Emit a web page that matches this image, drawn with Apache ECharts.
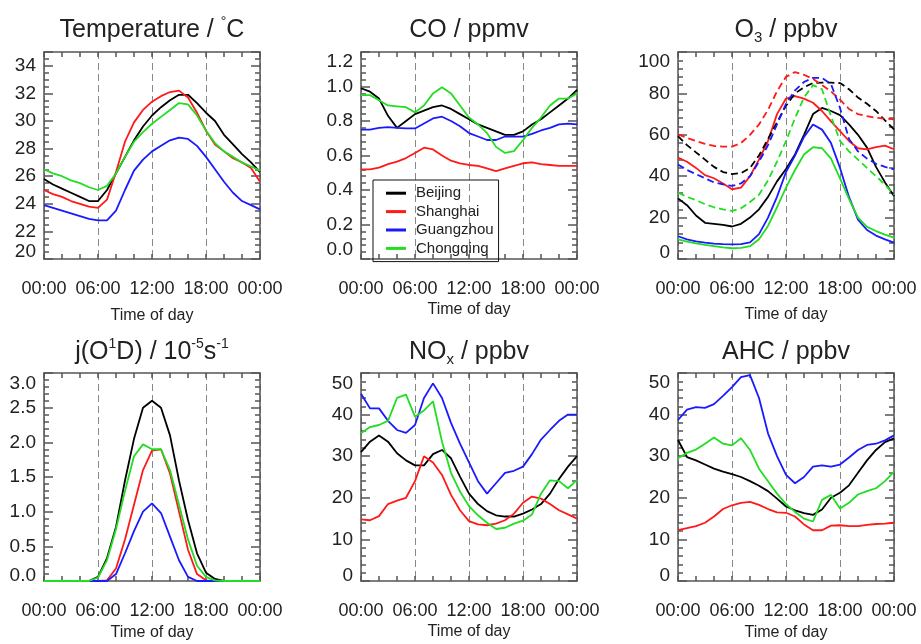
<!DOCTYPE html>
<html><head><meta charset="utf-8">
<script src="https://cdn.jsdelivr.net/npm/echarts@6/dist/echarts.min.js"></script>
<style>html,body{margin:0;padding:0;background:#fff}#c{width:921px;height:644px}</style>
</head><body><div id="c"></div>
<script>
// ---------------- data ----------------
const hours = [0,1,2,3,4,5,6,7,8,9,10,11,12,13,14,15,16,17,18,19,20,21,22,23,24];
const xTickLabels = ['00:00','06:00','12:00','18:00','00:00'];
const cities = ['Beijing','Shanghai','Guangzhou','Chongqing'];

const tempTicks = ['20','22','24','26','28','30','32','34'];
const coTicks = ['0.0','0.2','0.4','0.6','0.8','1.0','1.2'];
const o3Ticks = ['0','20','40','60','80','100'];
const jTicks = ['0.0','0.5','1.0','1.5','2.0','2.5','3.0'];
const noxTicks = ['0','10','20','30','40','50'];
const ahcTicks = ['0','10','20','30','40','50'];

const tempBeijing   = [25.8,25.4,25.1,24.8,24.5,24.2,24.2,25.0,26.2,27.4,28.6,29.6,30.4,31.0,31.5,31.9,31.9,31.3,30.6,30.0,29.0,28.3,27.6,27.0,26.3];
const tempShanghai  = [25.0,24.7,24.5,24.2,24.0,23.8,23.7,24.3,26.3,28.5,29.9,30.8,31.4,31.8,32.1,32.2,31.7,30.6,29.3,28.3,27.8,27.3,27.0,26.6,25.6];
const tempGuangzhou = [23.9,23.7,23.5,23.3,23.1,22.9,22.8,22.8,23.5,25.0,26.4,27.2,27.8,28.2,28.6,28.8,28.7,28.2,27.4,26.5,25.6,24.8,24.2,23.9,23.6];
const tempChongqing = [26.5,26.2,26.0,25.7,25.5,25.2,25.0,25.3,26.2,27.4,28.5,29.2,29.8,30.3,30.8,31.3,31.2,30.4,29.3,28.4,27.8,27.4,27.0,26.7,26.4];

const coBeijing   = [0.99,0.97,0.93,0.83,0.76,0.80,0.84,0.86,0.88,0.89,0.87,0.84,0.81,0.78,0.76,0.74,0.72,0.72,0.74,0.78,0.81,0.85,0.89,0.93,0.98];
const coShanghai  = [0.52,0.52,0.53,0.55,0.565,0.585,0.615,0.645,0.635,0.60,0.57,0.555,0.545,0.54,0.525,0.51,0.525,0.54,0.555,0.56,0.55,0.545,0.54,0.54,0.54];
const coGuangzhou = [0.75,0.75,0.76,0.765,0.76,0.757,0.757,0.786,0.815,0.825,0.80,0.77,0.73,0.71,0.69,0.69,0.71,0.71,0.71,0.725,0.745,0.76,0.78,0.785,0.78];
const coChongqing = [0.95,0.95,0.92,0.89,0.885,0.88,0.85,0.89,0.96,0.995,0.96,0.89,0.82,0.78,0.73,0.65,0.615,0.625,0.69,0.76,0.82,0.89,0.93,0.93,0.96];

const o3Beijing   = [29.3,26,21,17.5,17,16.5,15.7,17,20,24,30,37.5,43.5,50.5,60,70,73,71.5,69.5,65,60,53.8,44.5,37,30.4];
const o3Shanghai  = [49,47,44,40.5,39,36.5,33.7,34.5,40,48,57,70,77.5,78.7,77.5,75.5,71.5,66.5,61.8,57,53.5,53,54,54.8,53];
const o3Guangzhou = [11,9.5,8.5,7.9,7.4,7.2,7.1,7.2,8,12,20,30,42,50,59,65,62.5,56,44,30,19,14,11.3,9.5,7.9];
const o3Chongqing = [9.5,8.4,7.6,6.8,6.2,5.6,5.2,5.4,6.2,9.5,16,25,34.5,43,50.5,54,53.5,48.5,39,29,20,15.5,13.5,11.8,10.3];
const o3BeijingB   = [59.4,55,51.5,48,44.5,42,41,41.5,44,50,58,66,74,80,83,85,85.2,85.2,85,82,78,75,71.5,67,62.6];
const o3ShanghaiB  = [60.2,58.5,57,55.6,54.6,54.3,54.3,56,60,65,72,81,88,90.3,89,87,84,81,77,72.5,70,69,68.2,67.8,67.5];
const o3GuangzhouB = [45.7,43,41,39,37,36,35.3,36.5,40,47,55,65,75,81.5,85.5,87.5,87.5,84.5,73,58,52,48.5,46,44.5,43.3];
const o3ChongqingB = [32,30,28.4,26.5,25,24,23.2,24.5,27.5,31,38,47,57,68,78,84,82,69,57,52,48,44,40,36,31];

const jBeijing   = [0,0,0,0,0,0,0.06,0.33,0.78,1.45,2.05,2.5,2.6,2.5,2.1,1.45,0.88,0.4,0.12,0.03,0,0,0,0,0];
const jShanghai  = [0,0,0,0,0,0,0,0.01,0.18,0.6,1.1,1.6,1.88,1.9,1.55,1.0,0.45,0.1,0.01,0,0,0,0,0,0];
const jGuangzhou = [0,0,0,0,0,0,0,0,0.1,0.4,0.72,1.0,1.12,0.98,0.64,0.3,0.06,0,0,0,0,0,0,0,0];
const jChongqing = [0,0,0,0,0,0,0.05,0.3,0.75,1.3,1.8,1.97,1.9,1.9,1.6,1.1,0.6,0.22,0.06,0.01,0,0,0,0,0];

const noxBeijing   = [31,33.5,35,33.5,30.7,29,27.8,27.8,30.5,31.5,29.5,25.1,21,18.5,16.8,15.8,15.5,15.5,16.2,17.2,18.5,21,24.5,27.5,30];
const noxShanghai  = [14.8,14.6,15.6,18.5,19.3,20,24,30,28.5,25.5,20.7,17,14.4,13.6,13.4,13.8,14.6,16.2,18.8,20.3,19.8,18.5,17,16,15];
const noxGuangzhou = [45,41.5,41.5,38.5,36.3,35.6,37.5,44,47.5,44,38,33,28.5,24,21,23.5,26,26.5,27.5,30.5,34,36.3,38.5,40,40];
const noxChongqing = [35.5,37,37.5,38.5,44,44.8,39.5,41,43.2,33.5,26,21.5,18,15.8,14,12.5,12.8,13.8,14.5,16,21,24.2,24,22.3,24.3];

const ahcBeijing   = [33.9,29.8,29,28,27,26.3,25.7,25,24,22.9,21.6,19.8,17.9,17,16.3,15.9,17.2,20,21.2,23,26,29,31.5,33.4,34.3];
const ahcShanghai  = [12.2,12.7,13.2,14,15.5,17.3,18.2,18.8,19,18.3,17.3,16.5,16.4,15.5,13.6,12.2,12.2,13.3,13.4,13.2,13.2,13.5,13.7,13.8,14];
const ahcGuangzhou = [38.7,41.2,41.8,41.6,42.5,44.5,46.6,49,49.5,44,35.5,30,25.5,23.5,25,27.5,27.8,27.5,28,29.7,31.5,32.7,33,33.8,35];
const ahcChongqing = [29.5,30.8,31.6,33,34.5,33,32.6,34.3,31.5,27,24,21,18.5,16.6,15,14.3,19.5,20.7,17.4,18.8,20.8,21.6,22.3,24,26.3];

// ---------------- style ----------------
const FONT = "'Liberation Sans', Arial, Helvetica, sans-serif";
const TXT = '#222';
const AX = '#555';
const COL = {Beijing:'#000000', Shanghai:'#ff1a1a', Guangzhou:'#1a1aff', Chongqing:'#22dd22'};

const panels = [
  {title:'Temperature / {sup|°}C', min:20, max:35, interval:2, minor:4, ticks:tempTicks, tShift:0, bShift:7, nameGap:49,
   lines:[[cities[0],tempBeijing],[cities[1],tempShanghai],[cities[2],tempGuangzhou],[cities[3],tempChongqing]]},
  {title:'CO / ppmv', min:0, max:1.2, interval:0.2, minor:5, ticks:coTicks, tShift:10, bShift:9, nameGap:43,
   lines:[[cities[0],coBeijing],[cities[1],coShanghai],[cities[2],coGuangzhou],[cities[3],coChongqing]]},
  {title:'O{sub|3} / ppbv', min:0, max:100, interval:20, minor:5, ticks:o3Ticks, tShift:10, bShift:6, nameGap:48,
   lines:[[cities[0],o3Beijing],[cities[1],o3Shanghai],[cities[2],o3Guangzhou],[cities[3],o3Chongqing],
          [cities[0],o3BeijingB,1],[cities[1],o3ShanghaiB,1],[cities[2],o3GuangzhouB,1],[cities[3],o3ChongqingB,1]]},
  {title:'j(O{sup|1}D) / 10{sup|-5}s{sup|-1}', min:0, max:3, interval:0.5, minor:5, ticks:jTicks, tShift:11, bShift:5, nameGap:44,
   lines:[[cities[0],jBeijing],[cities[1],jShanghai],[cities[2],jGuangzhou],[cities[3],jChongqing]]},
  {title:'NO{sub|x} / ppbv', min:0, max:50, interval:10, minor:5, ticks:noxTicks, tShift:11, bShift:5, nameGap:43,
   lines:[[cities[0],noxBeijing],[cities[1],noxShanghai],[cities[2],noxGuangzhou],[cities[3],noxChongqing]]},
  {title:'AHC / ppbv', min:0, max:50, interval:10, minor:5, ticks:ahcTicks, tShift:10, bShift:5, nameGap:44,
   lines:[[cities[0],ahcBeijing],[cities[1],ahcShanghai],[cities[2],ahcGuangzhou],[cities[3],ahcChongqing]]}
];
const grids = [
  {left:44, top:52, width:216, height:207},
  {left:361, top:52, width:216, height:207},
  {left:678, top:52, width:216, height:207},
  {left:44, top:373, width:216, height:208},
  {left:361, top:373, width:216, height:208},
  {left:678, top:373, width:216, height:208}
];
const titleTops = [15.5, 15.5, 15.5, 337, 337, 337];

const option = {animation:false, backgroundColor:'#fff', title:[], grid:[], xAxis:[], yAxis:[], series:[],
  legend:{data:cities, orient:'vertical', left:373, top:180, padding:[4,5,4,13], itemGap:0, itemWidth:20, itemHeight:3,
    icon:'rect', borderColor:'#111', borderWidth:1, selectedMode:false,
    textStyle:{fontSize:15, fontFamily:FONT, color:TXT, lineHeight:18.4, padding:[0,0,0,5]}}
};

panels.forEach((p, i) => {
  const g = grids[i];
  option.grid.push({left:g.left, top:g.top, width:g.width, height:g.height, containLabel:false});
  option.title.push({text:p.title, left:g.left + g.width/2, top:titleTops[i], textAlign:'center', padding:0,
    textStyle:{fontSize:25, fontWeight:'normal', fontFamily:FONT, color:TXT, lineHeight:30,
      rich:{sup:{fontSize:14, fontFamily:FONT, color:TXT, verticalAlign:'top', lineHeight:14},
            sub:{fontSize:15, fontFamily:FONT, color:TXT, verticalAlign:'bottom', lineHeight:14}}}});
  const tick = {show:true, inside:true, length:5, lineStyle:{color:AX, width:1.5}};
  const minorX = {show:true, splitNumber:3, length:5, lineStyle:{color:AX, width:1.5}};
  const line = {show:true, onZero:false, lineStyle:{color:AX, width:1.5}};
  option.xAxis.push({gridIndex:i, type:'value', min:0, max:24, interval:6, position:'bottom',
    name:'Time of day', nameLocation:'middle', nameGap:p.nameGap,
    nameTextStyle:{fontSize:16, fontFamily:FONT, color:TXT},
    axisLine:line, axisTick:tick, minorTick:minorX,
    axisLabel:{fontSize:18, fontFamily:FONT, color:TXT, margin:20, lineHeight:20,
      formatter:(v) => { const k = Math.round(v/6); return xTickLabels[k] || ''; }},
    splitLine:{show:true, lineStyle:{color:'#888', width:1, type:[7,4]}}});
  option.xAxis.push({gridIndex:i, type:'value', min:0, max:24, interval:6, position:'top',
    axisLine:line, axisTick:tick, minorTick:minorX, axisLabel:{show:false}, splitLine:{show:false}});
  const ytick = {show:true, inside:true, length:9, lineStyle:{color:AX, width:1.5}};
  const yminor = {show:true, splitNumber:p.minor, length:5, lineStyle:{color:AX, width:1.5}};
  const fmt = (v) => {
    const k = Math.round((v - p.min)/p.interval);
    if (Math.abs(v - (p.min + k*p.interval)) > 1e-6 || k < 0 || k >= p.ticks.length) return '';
    const t = p.ticks[k];
    if (k === 0 && p.bShift) return '{b|' + t + '}';
    if (Math.abs(v - p.max) < 1e-6 && p.tShift) return '{t|' + t + '}';
    return t;
  };
  option.yAxis.push({gridIndex:i, type:'value', min:p.min, max:p.max, interval:p.interval, position:'left',
    axisLine:line, axisTick:ytick, minorTick:yminor,
    axisLabel:{fontSize:19, fontFamily:FONT, color:TXT, margin:8, formatter:fmt,
      rich:{b:{fontSize:19, fontFamily:FONT, color:TXT, padding:[0,0,p.bShift*2,0]},
            t:{fontSize:19, fontFamily:FONT, color:TXT, padding:[p.tShift*2,0,0,0]}}},
    splitLine:{show:false}});
  option.yAxis.push({gridIndex:i, type:'value', min:p.min, max:p.max, interval:p.interval, position:'right',
    axisLine:line, axisTick:ytick, minorTick:yminor, axisLabel:{show:false}, splitLine:{show:false}});
  p.lines.forEach((l) => {
    const name = l[0], vals = l[1], dashed = !!l[2];
    option.series.push({type:'line', name: dashed ? name + ' (dashed)' : name,
      xAxisIndex:2*i, yAxisIndex:2*i, data: hours.map((h, k) => [h, vals[k]]),
      symbol:'none', showSymbol:false, silent:true, emphasis:{disabled:true},
      lineStyle:{color:COL[name], width:1.8, type: dashed ? [7,4] : 'solid'},
      itemStyle:{color:COL[name]}});
  });
});

const chart = echarts.init(document.getElementById('c'), null, {renderer:'canvas'});
chart.setOption(option);
</script>
</body></html>
